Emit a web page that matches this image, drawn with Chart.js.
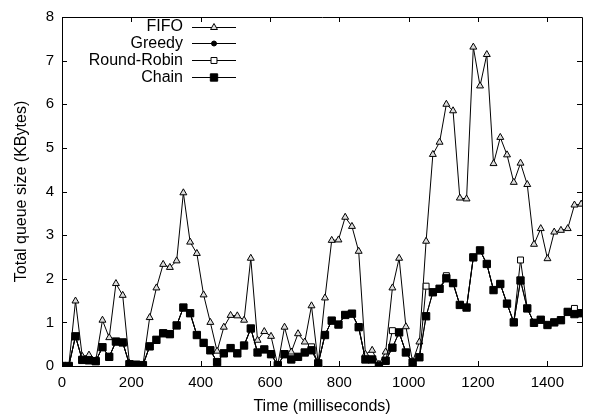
<!DOCTYPE html>
<html>
<head>
<meta charset="utf-8">
<script src="https://cdn.jsdelivr.net/npm/chart.js@4"></script>
<style>
html,body{margin:0;padding:0;background:#fff;}
#wrap{width:589px;height:419px;position:relative;}
</style>
</head>
<body>
<div id="wrap"><canvas id="c" width="589" height="419"></canvas></div>
<script>
// Time of each sample (milliseconds)
const times = [0, 19.5, 38.9, 58.4, 77.8, 97.3, 116.7, 136.2, 155.6, 175.1, 194.5, 214, 233.4, 252.9, 272.3, 291.8, 311.2, 330.7, 350.1, 369.6,
  389, 408.5, 427.9, 447.4, 466.8, 486.3, 505.7, 525.2, 544.6, 564.1, 583.5, 603, 622.4, 641.9, 661.3, 680.8, 700.2, 719.7, 739.1, 758.6,
  778, 797.5, 816.9, 836.4, 855.8, 875.3, 894.7, 914.2, 933.6, 953.1, 972.5, 992, 1011.4, 1030.9, 1050.3, 1069.8, 1089.2, 1108.7, 1128.1, 1147.6,
  1167, 1186.5, 1205.9, 1225.4, 1244.8, 1264.3, 1283.7, 1303.2, 1322.6, 1342.1, 1361.5, 1381, 1400.4, 1419.9, 1439.3, 1458.8, 1478.2, 1497.7, 1517.1];

// Total queue size (KBytes)
const fifo = [0, 0, 1.49, 0.22, 0.25, 0.12, 1.05, 0.65, 1.89, 1.62, 0.06, 0.02, 0.02, 1.11, 1.79, 2.33, 2.26, 2.41, 3.97, 2.84,
  2.58, 1.63, 1.0, 0.34, 0.89, 1.16, 1.15, 1.05, 2.47, 0.59, 0.79, 0.68, 0.02, 0.89, 0.32, 0.74, 0.55, 1.38, 0.06, 1.56,
  2.88, 2.89, 3.41, 3.2, 2.63, 0.27, 0.36, 0.04, 0.32, 1.79, 2.47, 0.9, 0.1, 0.55, 2.86, 4.85, 5.13, 6.0, 5.85, 3.85,
  3.83, 7.31, 6.42, 7.14, 4.64, 5.24, 4.84, 4.21, 4.65, 4.16, 2.79, 3.15, 2.46, 3.07, 3.11, 3.15, 3.69, 3.71, 3.85];

const greedy = [0, 0, 0.68, 0.14, 0.13, 0.11, 0.43, 0.21, 0.56, 0.54, 0.04, 0.03, 0.02, 0.45, 0.6, 0.75, 0.73, 0.93, 1.34, 1.21,
  0.71, 0.53, 0.36, 0.09, 0.29, 0.41, 0.29, 0.47, 0.86, 0.31, 0.38, 0.27, 0.02, 0.27, 0.15, 0.21, 0.31, 0.36, 0.06, 0.71,
  1.04, 0.95, 1.17, 1.2, 0.89, 0.15, 0.15, 0.0, 0.12, 0.42, 0.77, 0.31, 0.08, 0.2, 1.14, 1.69, 1.77, 2.01, 1.9, 1.4,
  1.34, 2.49, 2.65, 2.34, 1.74, 1.88, 1.43, 1.0, 1.96, 1.32, 0.99, 1.06, 0.94, 1.0, 1.05, 1.24, 1.19, 1.21, 1.2];

const roundRobin = [0, 0, 0.68, 0.14, 0.13, 0.11, 0.43, 0.21, 0.56, 0.54, 0.04, 0.03, 0.02, 0.45, 0.6, 0.75, 0.73, 0.93, 1.34, 1.21,
  0.71, 0.53, 0.36, 0.09, 0.29, 0.41, 0.29, 0.47, 0.86, 0.31, 0.38, 0.27, 0.02, 0.27, 0.15, 0.21, 0.31, 0.44, 0.06, 0.71,
  1.04, 0.95, 1.17, 1.2, 0.89, 0.15, 0.15, 0.0, 0.12, 0.81, 0.77, 0.31, 0.08, 0.2, 1.83, 1.69, 1.77, 2.07, 1.9, 1.4,
  1.34, 2.49, 2.65, 2.34, 1.74, 1.88, 1.43, 1.0, 2.43, 1.32, 0.99, 1.06, 0.94, 1.0, 1.05, 1.24, 1.32, 1.21, 1.2];

const chain = [0, 0, 0.68, 0.14, 0.13, 0.11, 0.43, 0.21, 0.56, 0.54, 0.04, 0.03, 0.02, 0.45, 0.6, 0.75, 0.73, 0.93, 1.34, 1.21,
  0.71, 0.53, 0.36, 0.09, 0.29, 0.41, 0.29, 0.47, 0.86, 0.31, 0.38, 0.27, 0.02, 0.27, 0.15, 0.21, 0.31, 0.36, 0.06, 0.71,
  1.04, 0.95, 1.17, 1.2, 0.89, 0.15, 0.15, 0.0, 0.12, 0.42, 0.77, 0.31, 0.08, 0.2, 1.14, 1.69, 1.77, 2.01, 1.9, 1.4,
  1.34, 2.49, 2.65, 2.34, 1.74, 1.88, 1.43, 1.0, 1.96, 1.32, 0.99, 1.06, 0.94, 1.0, 1.05, 1.24, 1.19, 1.21, 1.2];

const seriesNames = ['FIFO', 'Greedy', 'Round-Robin', 'Chain'];
const xTickValues = [0, 200, 400, 600, 800, 1000, 1200, 1400];
const yTickValues = [0, 1, 2, 3, 4, 5, 6, 7, 8];
const xTitle = 'Time (milliseconds)';
const yTitle = 'Total queue size (KBytes)';

const FONT = "'Liberation Sans', Arial, Helvetica, sans-serif";

function pts(vals) { return vals.map((v, i) => ({x: times[i], y: v})); }

const styles = [
  {pointStyle: 'triangle', pointRadius: 4, pointBackgroundColor: '#ddd', order: 4},
  {pointStyle: 'circle', pointRadius: 2.5, pointBackgroundColor: '#000', order: 3},
  {pointStyle: 'rect', pointRadius: 4.2, pointBackgroundColor: '#fff', order: 2},
  {pointStyle: 'rect', pointRadius: 5.2, pointBackgroundColor: '#000', order: 1}
];
const seriesData = [fifo, greedy, roundRobin, chain];

const datasets = seriesNames.map((name, k) => ({
  label: name,
  data: pts(seriesData[k]),
  borderColor: '#000',
  borderWidth: 1,
  pointBorderColor: '#000',
  pointBorderWidth: 1,
  pointStyle: styles[k].pointStyle,
  pointRadius: styles[k].pointRadius,
  pointBackgroundColor: styles[k].pointBackgroundColor,
  order: styles[k].order,
  tension: 0,
  fill: false
}));

const framePlugin = {
  id: 'frame',
  afterDraw(chart) {
    const ctx = chart.ctx;
    const a = chart.chartArea;
    const xs = chart.scales.x, ys = chart.scales.y;
    ctx.save();
    ctx.strokeStyle = '#000';
    ctx.lineWidth = 1;
    ctx.beginPath();
    ctx.rect(Math.round(a.left) + 0.5, Math.round(a.top) + 0.5, Math.round(a.right - a.left), Math.round(a.bottom - a.top));
    ctx.stroke();
    const tl = 5;
    ctx.beginPath();
    xTickValues.forEach(v => {
      const px = Math.round(xs.getPixelForValue(v)) + 0.5;
      ctx.moveTo(px, a.bottom); ctx.lineTo(px, a.bottom - tl);
      ctx.moveTo(px, a.top); ctx.lineTo(px, a.top + tl);
    });
    yTickValues.forEach(v => {
      const py = Math.round(ys.getPixelForValue(v)) + 0.5;
      ctx.moveTo(a.left, py); ctx.lineTo(a.left + tl, py);
      ctx.moveTo(a.right, py); ctx.lineTo(a.right - tl, py);
    });
    ctx.stroke();

    // legend
    const textRight = 183, lineL = 192, lineR = 236, y0 = 26.5, dy = 16.7;
    ctx.font = '16px ' + FONT;
    ctx.textAlign = 'right';
    ctx.textBaseline = 'middle';
    ctx.fillStyle = '#000';
    chart.data.datasets.forEach((ds, k) => {
      const y = y0 + k * dy;
      ctx.fillText(ds.label, textRight, y + 0.5);
      ctx.beginPath();
      ctx.lineWidth = 1;
      ctx.strokeStyle = '#000';
      ctx.moveTo(lineL, Math.round(y) + 0.5); ctx.lineTo(lineR, Math.round(y) + 0.5);
      ctx.stroke();
      ctx.fillStyle = ds.pointBackgroundColor;
      Chart.helpers.drawPoint(ctx, {pointStyle: ds.pointStyle, radius: ds.pointRadius, borderWidth: 1, rotation: 0},
        (lineL + lineR) / 2, Math.round(y) + 0.5);
      ctx.fillStyle = '#000';
    });
    ctx.restore();
  }
};

new Chart(document.getElementById('c'), {
  type: 'line',
  data: {datasets},
  options: {
    responsive: false,
    animation: false,
    devicePixelRatio: 1,
    layout: {padding: {top: 12, right: 7, left: 0, bottom: 0}},
    plugins: {legend: {display: false}, tooltip: {enabled: false}},
    scales: {
      x: {
        type: 'linear', min: 0, max: 1500,
        afterFit(s) { s.height = 53; },
        afterBuildTicks(s) { s.ticks = xTickValues.map(v => ({value: v})); },
        grid: {display: false, drawTicks: false},
        border: {display: false},
        ticks: {color: '#000', font: {family: FONT, size: 15}, padding: 8, maxRotation: 0, autoSkip: false,
          callback: v => String(v)},
        title: {display: true, text: xTitle, color: '#000', font: {family: FONT, size: 16}, padding: {top: 0, bottom: 3}}
      },
      y: {
        type: 'linear', min: 0, max: 8,
        afterFit(s) { s.width = 62; },
        afterBuildTicks(s) { s.ticks = yTickValues.map(v => ({value: v})); },
        grid: {display: false, drawTicks: false},
        border: {display: false},
        ticks: {color: '#000', font: {family: FONT, size: 15}, padding: 8, callback: v => String(v)},
        title: {display: true, text: yTitle, color: '#000', font: {family: FONT, size: 16}, padding: {top: 12, bottom: 0}}
      }
    }
  },
  plugins: [framePlugin]
});
</script>
</body>
</html>
